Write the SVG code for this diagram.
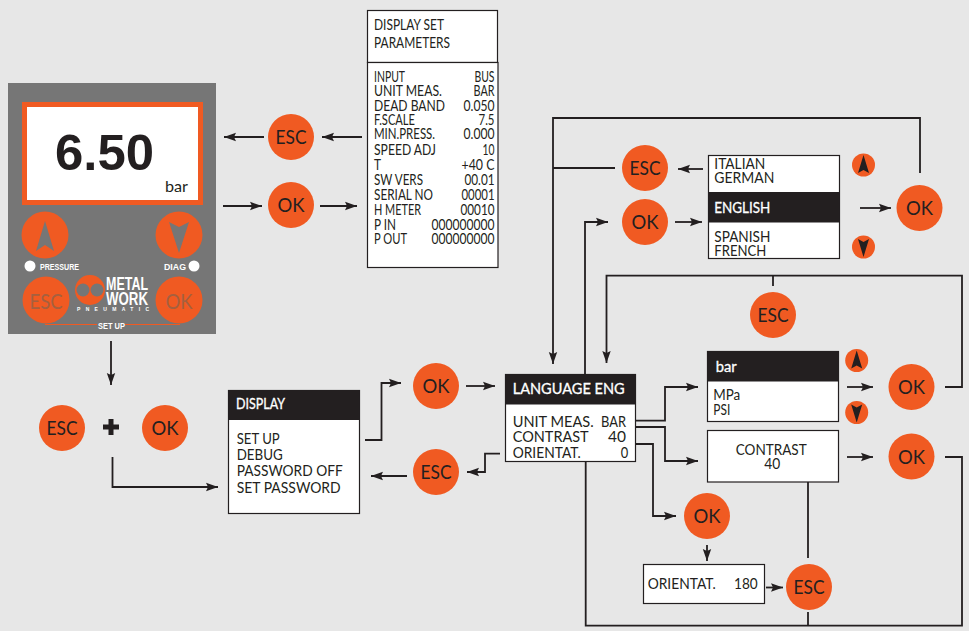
<svg xmlns="http://www.w3.org/2000/svg" width="969" height="631" viewBox="0 0 969 631">
<style>
text{font-family:"Lato","Liberation Sans",sans-serif;fill:#231f20}
.b{fill:#f05a22}
.bt{font-size:20px;text-anchor:middle}
.box{fill:#fff;stroke:#231f20;stroke-width:1.2}
.hd{fill:#231f20}
.w{fill:#fff}
.t{font-size:14.5px}
.hw{fill:#fff;stroke:#fff;stroke-width:.3}
.e{text-anchor:end}
.c path,.c line{fill:none;stroke:#231f20;stroke-width:1.8}
.a{marker-end:url(#ah)}
.tri{fill:#231f20}
.pt{font-family:"Liberation Sans",sans-serif;font-weight:700;fill:#fff}
.g{fill:#767676}
.pb{font-size:21px;text-anchor:middle;fill:#a5603f}
</style>
<defs>
<marker id="ah" markerUnits="userSpaceOnUse" markerWidth="13" markerHeight="10" refX="12" refY="5" orient="auto"><path d="M0 .8 L12 5 L0 9.200 L2 5Z" fill="#231f20"/></marker>
</defs>
<rect width="969" height="631" fill="#e7e7e7"/>

<g id="connectors" class="c">
<line class="a" x1="362" y1="137" x2="322" y2="137"/>
<line class="a" x1="264" y1="137" x2="224" y2="137"/>
<line class="a" x1="223" y1="206" x2="262" y2="206"/>
<line class="a" x1="320" y1="206" x2="357" y2="206"/>
<line class="a" x1="111" y1="341" x2="111" y2="385"/>
<path class="a" d="M112.500 457V487H218"/>
<path class="a" d="M365 440H381.500V383H401"/>
<line class="a" x1="466" y1="386" x2="495" y2="386"/>
<line class="a" x1="407" y1="476" x2="371" y2="476"/>
<path class="a" d="M500 453.700H485V472H467"/>
<path class="a" d="M636 420.700H665V387H698"/>
<path class="a" d="M636 427H665V461H698"/>
<path class="a" d="M636 444H653V516H676"/>
<line class="a" x1="707" y1="545" x2="707" y2="561"/>
<line class="a" x1="766" y1="587.500" x2="783" y2="587.500"/>
<line class="a" x1="847" y1="387" x2="873" y2="387"/>
<line class="a" x1="847" y1="457" x2="873" y2="457"/>
<path d="M945 457H962V625.600H585.700V461"/>
<line x1="808" y1="482" x2="808" y2="558"/>
<line x1="808" y1="612" x2="808" y2="625.600"/>
<path class="a" d="M945 387H962V275.600H606.500V363"/>
<line x1="773" y1="275.600" x2="773" y2="286"/>
<path class="a" d="M920 173V118H553V364"/>
<line x1="553" y1="168" x2="615" y2="168"/>
<path class="a" d="M585 374V222H608"/>
<line class="a" x1="860" y1="208" x2="891" y2="208"/>
<line class="a" x1="703" y1="169" x2="678" y2="169"/>
<line class="a" x1="675" y1="222" x2="702" y2="222"/>
</g>

<g id="device">
<rect class="g" x="8" y="83" width="208" height="251"/>
<rect x="24.500" y="104.500" width="176" height="98" fill="#fff" stroke="#f05a22" stroke-width="5"/>
<text x="55" y="170" font-size="50" font-weight="700" textLength="99" lengthAdjust="spacingAndGlyphs" style="font-family:'Liberation Sans',sans-serif">6.50</text>
<text x="165" y="192" font-size="15" textLength="23" lengthAdjust="spacingAndGlyphs">bar</text>
<circle class="b" cx="45" cy="235" r="23.500"/>
<path class="g" d="M45 221L54 251L45 245L36 251Z"/>
<circle class="b" cx="179" cy="235" r="23.500"/>
<path class="g" d="M179 253L169 222L179 227L189 222Z"/>
<circle class="w" cx="30" cy="266" r="5.500"/>
<circle class="w" cx="194" cy="266" r="5.500"/>
<text class="pt" x="40" y="269.500" font-size="9" textLength="39" lengthAdjust="spacingAndGlyphs">PRESSURE</text>
<text class="pt" x="164" y="269.500" font-size="9" textLength="22" lengthAdjust="spacingAndGlyphs">DIAG</text>
<circle class="b" cx="46" cy="300" r="23.500"/>
<circle class="b" cx="179" cy="300" r="23.500"/>
<text class="pb" x="46" y="308.500" textLength="33" lengthAdjust="spacingAndGlyphs">ESC</text>
<text class="pb" x="179" y="308.500" textLength="27" lengthAdjust="spacingAndGlyphs">OK</text>
<circle class="b" cx="90" cy="290" r="15"/>
<circle class="g" cx="83" cy="290" r="6.500"/>
<circle class="g" cx="97" cy="290" r="6.500"/>
<text class="pt" x="106" y="290" font-size="19" textLength="42" lengthAdjust="spacingAndGlyphs">METAL</text>
<text class="pt" x="106" y="305" font-size="19" textLength="42" lengthAdjust="spacingAndGlyphs">WORK</text>
<text class="pt" x="77" y="311" font-size="5" textLength="72">PNEUMATIC</text>
<path d="M45 324.500H97M125 324.500H180" stroke="#f05a22" stroke-width="1" fill="none"/>
<text class="pt" x="98" y="329" font-size="9" textLength="27" lengthAdjust="spacingAndGlyphs">SET UP</text>
</g>

<g id="esc-top"><circle class="b" cx="291" cy="137" r="23"/><text class="bt" x="291" y="144.300" textLength="31" lengthAdjust="spacingAndGlyphs">ESC</text></g>
<g id="ok-top"><circle class="b" cx="291" cy="205" r="23"/><text class="bt" x="291" y="212.300" textLength="27" lengthAdjust="spacingAndGlyphs">OK</text></g>
<g id="esc-plus"><circle class="b" cx="62" cy="428" r="23"/><text class="bt" x="62" y="435.300" textLength="31" lengthAdjust="spacingAndGlyphs">ESC</text></g>
<g id="plus"><path d="M103 424.500h5.500v-5.500h5v5.500h5.500v5h-5.500v5.500h-5v-5.500h-5.500z" fill="#231f20"/></g>
<g id="ok-plus"><circle class="b" cx="165" cy="428" r="23"/><text class="bt" x="165" y="435.300" textLength="27" lengthAdjust="spacingAndGlyphs">OK</text></g>
<g id="ok-display"><circle class="b" cx="436" cy="386" r="23"/><text class="bt" x="436" y="393.300" textLength="27" lengthAdjust="spacingAndGlyphs">OK</text></g>
<g id="esc-display"><circle class="b" cx="436" cy="472" r="23"/><text class="bt" x="436" y="479.300" textLength="31" lengthAdjust="spacingAndGlyphs">ESC</text></g>
<g id="esc-lang"><circle class="b" cx="645" cy="168" r="23"/><text class="bt" x="645" y="175.300" textLength="31" lengthAdjust="spacingAndGlyphs">ESC</text></g>
<g id="ok-lang"><circle class="b" cx="645" cy="222" r="23"/><text class="bt" x="645" y="229.300" textLength="27" lengthAdjust="spacingAndGlyphs">OK</text></g>
<g id="ok-list"><circle class="b" cx="919.500" cy="208" r="23"/><text class="bt" x="919.500" y="215.300" textLength="27" lengthAdjust="spacingAndGlyphs">OK</text></g>
<g id="esc-unit"><circle class="b" cx="773" cy="315" r="23"/><text class="bt" x="773" y="322.300" textLength="31" lengthAdjust="spacingAndGlyphs">ESC</text></g>
<g id="ok-unit"><circle class="b" cx="911.500" cy="387" r="23"/><text class="bt" x="911.500" y="394.300" textLength="27" lengthAdjust="spacingAndGlyphs">OK</text></g>
<g id="ok-contrast"><circle class="b" cx="911.500" cy="456.500" r="23"/><text class="bt" x="911.500" y="463.800" textLength="27" lengthAdjust="spacingAndGlyphs">OK</text></g>
<g id="ok-orient"><circle class="b" cx="707" cy="516" r="23"/><text class="bt" x="707" y="523.300" textLength="27" lengthAdjust="spacingAndGlyphs">OK</text></g>
<g id="esc-orient"><circle class="b" cx="809" cy="587" r="23"/><text class="bt" x="809" y="594.300" textLength="31" lengthAdjust="spacingAndGlyphs">ESC</text></g>

<g id="up-list"><circle class="b" cx="863.500" cy="165" r="11.500"/><path class="tri" d="M863.500 155L869 173L863.500 170L858 173Z"/></g>
<g id="down-list"><circle class="b" cx="863.500" cy="247" r="11.500"/><path class="tri" d="M863.500 257L858 239L863.500 242L869 239Z"/></g>
<g id="up-unit"><circle class="b" cx="856.700" cy="360.500" r="11.500"/><path class="tri" d="M856.700 350.500L862.200 368.500L856.700 365.500L851.200 368.500Z"/></g>
<g id="down-unit"><circle class="b" cx="856.700" cy="412.500" r="11.500"/><path class="tri" d="M856.700 422.500L851.200 404.500L856.700 407.500L862.200 404.500Z"/></g>

<g id="display-set">
<rect class="box" x="367.500" y="10.500" width="130" height="52"/>
<text class="t" x="374" y="30" textLength="70" lengthAdjust="spacingAndGlyphs">DISPLAY SET</text>
<text class="t" x="374" y="47.500" textLength="76" lengthAdjust="spacingAndGlyphs">PARAMETERS</text>
</g>
<g id="parameters">
<rect class="box" x="367.500" y="62.500" width="130.500" height="205"/>
<text class="t" x="374" y="82" textLength="31" lengthAdjust="spacingAndGlyphs">INPUT</text><text class="t e" x="494.500" y="82" textLength="20" lengthAdjust="spacingAndGlyphs">BUS</text>
<text class="t" x="374" y="96" textLength="68" lengthAdjust="spacingAndGlyphs">UNIT MEAS.</text><text class="t e" x="494.500" y="96" textLength="21" lengthAdjust="spacingAndGlyphs">BAR</text>
<text class="t" x="374" y="111" textLength="71" lengthAdjust="spacingAndGlyphs">DEAD BAND</text><text class="t e" x="494.500" y="111" textLength="31" lengthAdjust="spacingAndGlyphs">0.050</text>
<text class="t" x="374" y="125" textLength="41" lengthAdjust="spacingAndGlyphs">F.SCALE</text><text class="t e" x="494.500" y="125" textLength="16" lengthAdjust="spacingAndGlyphs">7.5</text>
<text class="t" x="374" y="139" textLength="61" lengthAdjust="spacingAndGlyphs">MIN.PRESS.</text><text class="t e" x="494.500" y="139" textLength="31" lengthAdjust="spacingAndGlyphs">0.000</text>
<text class="t" x="374" y="155" textLength="62" lengthAdjust="spacingAndGlyphs">SPEED ADJ</text><text class="t e" x="494.500" y="155" textLength="12" lengthAdjust="spacingAndGlyphs">10</text>
<text class="t" x="374" y="170" textLength="7" lengthAdjust="spacingAndGlyphs">T</text><text class="t e" x="494.500" y="170" textLength="33" lengthAdjust="spacingAndGlyphs">+40 C</text>
<text class="t" x="374" y="185" textLength="49" lengthAdjust="spacingAndGlyphs">SW VERS</text><text class="t e" x="494.500" y="185" textLength="30" lengthAdjust="spacingAndGlyphs">00.01</text>
<text class="t" x="374" y="200" textLength="59" lengthAdjust="spacingAndGlyphs">SERIAL NO</text><text class="t e" x="494.500" y="200" textLength="33" lengthAdjust="spacingAndGlyphs">00001</text>
<text class="t" x="374" y="215" textLength="47" lengthAdjust="spacingAndGlyphs">H METER</text><text class="t e" x="494.500" y="215" textLength="34" lengthAdjust="spacingAndGlyphs">00010</text>
<text class="t" x="374" y="230" textLength="22" lengthAdjust="spacingAndGlyphs">P IN</text><text class="t e" x="494.500" y="230" textLength="63" lengthAdjust="spacingAndGlyphs">000000000</text>
<text class="t" x="374" y="244" textLength="33" lengthAdjust="spacingAndGlyphs">P OUT</text><text class="t e" x="494.500" y="244" textLength="63" lengthAdjust="spacingAndGlyphs">000000000</text>
</g>

<g id="language-list">
<rect class="box" x="708.500" y="155.500" width="131" height="103"/>
<rect class="hd" x="708.500" y="192" width="131" height="30.500"/>
<text class="t" x="714.300" y="169.300" textLength="51" lengthAdjust="spacingAndGlyphs">ITALIAN</text>
<text class="t" x="714.300" y="183.300" textLength="60" lengthAdjust="spacingAndGlyphs">GERMAN</text>
<text class="t hw" x="714.300" y="212.700" textLength="56" lengthAdjust="spacingAndGlyphs">ENGLISH</text>
<text class="t" x="714.300" y="241.700" textLength="56" lengthAdjust="spacingAndGlyphs">SPANISH</text>
<text class="t" x="714.300" y="255.700" textLength="52" lengthAdjust="spacingAndGlyphs">FRENCH</text>
</g>

<g id="display-menu">
<rect class="box" x="228.500" y="390.500" width="131" height="123"/>
<rect class="hd" x="228.500" y="390" width="131" height="30"/>
<text class="t hw" x="236" y="409" textLength="49" lengthAdjust="spacingAndGlyphs">DISPLAY</text>
<text class="t" x="236.700" y="444" textLength="43" lengthAdjust="spacingAndGlyphs">SET UP</text>
<text class="t" x="236.700" y="460" textLength="46" lengthAdjust="spacingAndGlyphs">DEBUG</text>
<text class="t" x="236.700" y="476" textLength="106" lengthAdjust="spacingAndGlyphs">PASSWORD OFF</text>
<text class="t" x="236.700" y="492.500" textLength="104" lengthAdjust="spacingAndGlyphs">SET PASSWORD</text>
</g>

<g id="language-menu">
<rect class="box" x="505.500" y="374.500" width="130" height="87"/>
<rect class="hd" x="505" y="374" width="131" height="30.500"/>
<text class="t hw" x="512.700" y="394" textLength="112" lengthAdjust="spacingAndGlyphs">LANGUAGE ENG</text>
<text class="t" x="512.700" y="427" textLength="81" lengthAdjust="spacingAndGlyphs">UNIT MEAS.</text><text class="t e" x="626" y="427" textLength="25" lengthAdjust="spacingAndGlyphs">BAR</text>
<text class="t" x="512.700" y="442" textLength="76" lengthAdjust="spacingAndGlyphs">CONTRAST</text><text class="t e" x="626" y="442" textLength="18" lengthAdjust="spacingAndGlyphs">40</text>
<text class="t" x="512.700" y="458" textLength="68" lengthAdjust="spacingAndGlyphs">ORIENTAT.</text><text class="t e" x="628.300" y="458" textLength="7.500" lengthAdjust="spacingAndGlyphs">0</text>
</g>

<g id="unit-list">
<rect class="box" x="707.500" y="351.500" width="131" height="70"/>
<rect class="hd" x="707" y="351" width="132" height="30.500"/>
<text class="t hw" x="715.700" y="371.700" textLength="21" lengthAdjust="spacingAndGlyphs">bar</text>
<text class="t" x="713.300" y="400.300" textLength="27" lengthAdjust="spacingAndGlyphs">MPa</text>
<text class="t" x="713.300" y="414.700" textLength="17" lengthAdjust="spacingAndGlyphs">PSI</text>
</g>

<g id="contrast-box">
<rect class="box" x="707.500" y="430.500" width="131" height="51.500"/>
<text class="t" x="735.700" y="454.700" textLength="71" lengthAdjust="spacingAndGlyphs">CONTRAST</text>
<text class="t" x="764.300" y="468.700" textLength="16" lengthAdjust="spacingAndGlyphs">40</text>
</g>

<g id="orientat-box">
<rect class="box" x="643.500" y="564.500" width="121" height="39"/>
<text class="t" x="647.700" y="589.300" textLength="68" lengthAdjust="spacingAndGlyphs">ORIENTAT.</text>
<text class="t" x="734" y="589.300" textLength="23.700" lengthAdjust="spacingAndGlyphs">180</text>
</g>
</svg>
